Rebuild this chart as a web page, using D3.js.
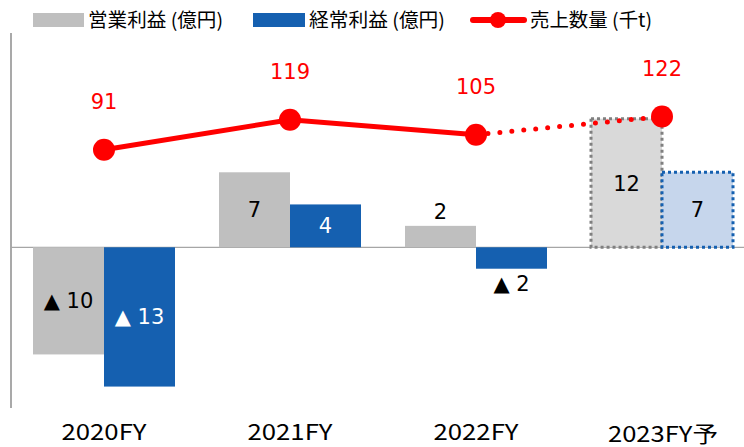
<!DOCTYPE html>
<html>
<head>
<meta charset="utf-8">
<script src="https://cdn.jsdelivr.net/npm/d3@7"></script>
<style>
  body { margin: 0; background: #fff; }
  svg { display: block; }
</style>
</head>
<body>
<svg id="chart"></svg>
<script>
var categories = ["2020FY", "2021FY", "2022FY", "2023FY予"];
var opProfit = [-10, 7, 2, 12];     // 営業利益 (億円)
var ordProfit = [-13, 4, -2, 7];    // 経常利益 (億円)
var volume = [91, 119, 105, 122];   // 売上数量 (千t)
var forecast = [false, false, false, true];

var width = 744, height = 447;
var gray = "#bfbfbf", blue = "#1560b0", red = "#ff0000";
var cjk = "'Noto Sans CJK JP', 'Noto Sans', sans-serif";
var num = "'DejaVu Sans', Verdana, sans-serif";

var svg = d3.select("#chart")
	.attr("width", width)
	.attr("height", height);

var x = d3.scaleBand()
	.domain(categories)
	.range([11, 755])
	.padding(0);

var y = d3.scaleLinear()
	.domain([-15, 20])
	.range([408, 33]);

var y2 = d3.scaleLinear()
	.domain([0, 200])
	.range([y(0), y(20)]);

var barW = 71;

function fmt(v) {
	return v < 0 ? "\u25B2 " + Math.abs(v) : String(v);
}

// left axis + zero line
svg.append("line")
	.attr("x1", 11).attr("x2", 11)
	.attr("y1", y(20)).attr("y2", y(-15))
	.attr("stroke", "#8c8c8c").attr("stroke-width", 1.5);

svg.append("line")
	.attr("x1", 11).attr("x2", width)
	.attr("y1", y(0)).attr("y2", y(0))
	.attr("stroke", "#a6a6a6").attr("stroke-width", 1.2);

// bars
var series = [
	{ vals: opProfit, fill: gray, fcFill: "#d9d9d9", fcStroke: "#808080", off: -barW, inText: "#000" },
	{ vals: ordProfit, fill: blue, fcFill: "#c6d6ec", fcStroke: "#1560b0", off: 0, inText: "#fff" }
];

series.forEach(function(s) {
	categories.forEach(function(c, i) {
		var v = s.vals[i];
		var cx = x(c) + x.bandwidth() / 2;
		var bx = cx + s.off;
		var top = y(Math.max(v, 0)), bot = y(Math.min(v, 0));
		var r = svg.append("rect")
			.attr("x", bx).attr("y", top)
			.attr("width", barW).attr("height", bot - top);
		if (forecast[i]) {
			r.attr("fill", s.fcFill)
				.attr("stroke", s.fcStroke)
				.attr("stroke-width", 3)
				.attr("stroke-dasharray", "3,3");
		} else {
			r.attr("fill", s.fill);
		}

		var h = bot - top;
		var tx = bx + barW / 2, ty, col;
		if (h > 30) {
			ty = (top + bot) / 2;
			col = forecast[i] ? "#000" : s.inText;
		} else if (v >= 0) {
			ty = top - 14;
			col = "#000";
		} else {
			ty = bot + 15;
			col = "#000";
		}
		svg.append("text")
			.attr("x", tx).attr("y", ty)
			.attr("dy", "0.36em")
			.attr("text-anchor", "middle")
			.style("font-family", num)
			.style("font-size", "21px")
			.attr("fill", col)
			.text(fmt(v));
	});
});

// volume line
var pts = categories.map(function(c, i) {
	return [x(c) + x.bandwidth() / 2, y2(volume[i])];
});

var line = d3.line();

svg.append("path")
	.attr("d", line(pts.slice(0, 3)))
	.attr("fill", "none")
	.attr("stroke", red)
	.attr("stroke-width", 5);

svg.append("path")
	.attr("d", line(pts.slice(2, 4)))
	.attr("fill", "none")
	.attr("stroke", red)
	.attr("stroke-width", 5)
	.attr("stroke-linecap", "round")
	.attr("stroke-dasharray", "0,12");

pts.forEach(function(p, i) {
	svg.append("circle")
		.attr("cx", p[0]).attr("cy", p[1])
		.attr("r", 11)
		.attr("fill", red);
	svg.append("text")
		.attr("x", p[0]).attr("y", p[1] - 48)
		.attr("dy", "0.36em")
		.attr("text-anchor", "middle")
		.style("font-family", num)
		.style("font-size", "21px")
		.attr("fill", red)
		.text(volume[i]);
});

// category labels
var catLen = [85, 85, 85, 110];
categories.forEach(function(c, i) {
	svg.append("text")
		.attr("x", x(c) + x.bandwidth() / 2 + (i == 3 ? 1 : 0))
		.attr("y", i == 3 ? 442 : 440)
		.attr("text-anchor", "middle")
		.attr("textLength", catLen[i])
		.attr("lengthAdjust", "spacingAndGlyphs")
		.style("font-family", cjk)
		.style("font-size", "22px")
		.attr("fill", "#000")
		.text(c);
});

// legend
var lg = svg.append("g");
lg.append("rect").attr("x", 33).attr("y", 13).attr("width", 51).attr("height", 14).attr("fill", gray);
lg.append("text").attr("x", 88).attr("y", 27).attr("textLength", 135).text("営業利益 (億円)");
lg.append("rect").attr("x", 253).attr("y", 13).attr("width", 52).attr("height", 14).attr("fill", blue);
lg.append("text").attr("x", 309).attr("y", 27).attr("textLength", 136).text("経常利益 (億円)");
lg.append("line").attr("x1", 473).attr("x2", 524).attr("y1", 20).attr("y2", 20)
	.attr("stroke", red).attr("stroke-width", 6).attr("stroke-linecap", "round");
lg.append("circle").attr("cx", 498).attr("cy", 20).attr("r", 8).attr("fill", red);
lg.append("text").attr("x", 530).attr("y", 27).attr("textLength", 122).text("売上数量 (千t)");
lg.selectAll("text")
	.attr("lengthAdjust", "spacingAndGlyphs")
	.style("font-family", cjk)
	.style("font-size", "19px")
	.attr("fill", "#000");
</script>
</body>
</html>
